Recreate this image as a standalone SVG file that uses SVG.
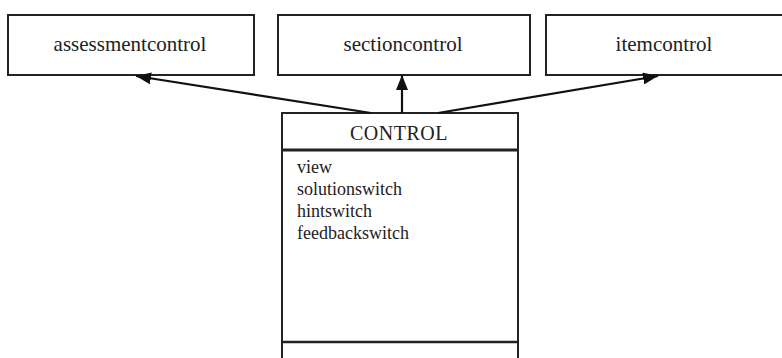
<svg xmlns="http://www.w3.org/2000/svg" width="782" height="358" viewBox="0 0 782 358">
<style>
.box{fill:#fff;stroke:#222;stroke-width:2}
.lbl{font-family:"Liberation Serif","Times New Roman",serif;font-size:21px;fill:#222;text-anchor:middle}
.attr{font-family:"Liberation Serif","Times New Roman",serif;font-size:18px;fill:#222}
.conn{stroke:#111;stroke-width:2.2;fill:none}
</style>
<defs>
<marker id="ah" viewBox="0 0 15 12" refX="15" refY="6" markerWidth="15" markerHeight="12" markerUnits="userSpaceOnUse" orient="auto">
<path d="M0,0 L15,6 L0,12 Z" fill="#111"/>
</marker>
</defs>
<rect width="782" height="358" fill="#fff"/>
<g id="assessmentcontrol">
<rect class="box" x="8" y="15" width="246" height="60"/>
<text class="lbl" x="130" y="51">assessmentcontrol</text>
</g>
<g id="sectioncontrol">
<rect class="box" x="278" y="15" width="252" height="60"/>
<text class="lbl" x="403" y="51">sectioncontrol</text>
</g>
<g id="itemcontrol">
<rect class="box" x="546" y="15" width="240" height="60"/>
<text class="lbl" x="664" y="51">itemcontrol</text>
</g>
<g id="CONTROL">
<rect class="box" x="282" y="113" width="236" height="250"/>
<line x1="282" y1="150" x2="518" y2="150" stroke="#222" stroke-width="3"/>
<line x1="282" y1="342" x2="518" y2="342" stroke="#222" stroke-width="2.5"/>
<text x="399" y="140" style="font-family:'Liberation Serif','Times New Roman',serif;font-size:20px;fill:#222;text-anchor:middle;letter-spacing:0.5px">CONTROL</text>
<text class="attr" x="297" y="173">view</text>
<text class="attr" x="297" y="195">solutionswitch</text>
<text class="attr" x="297" y="217">hintswitch</text>
<text class="attr" x="297" y="239">feedbackswitch</text>
</g>
<g id="connectors">
<line class="conn" x1="371" y1="113" x2="136" y2="76" marker-end="url(#ah)"/>
<line class="conn" x1="402" y1="113" x2="402" y2="75" stroke-width="1.6" marker-end="url(#ah)"/>
<line class="conn" x1="438" y1="113" x2="658" y2="76" marker-end="url(#ah)"/>
</g>
</svg>
